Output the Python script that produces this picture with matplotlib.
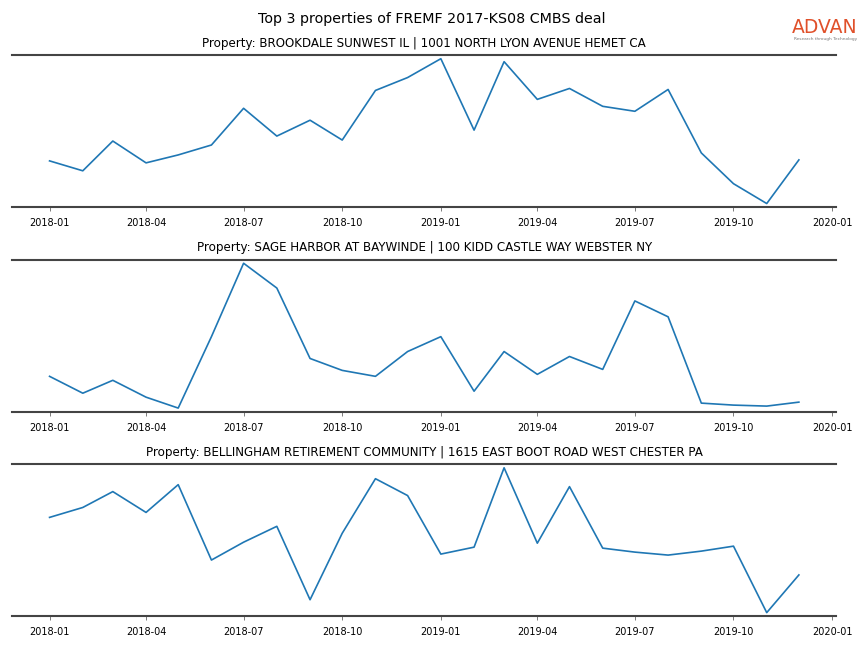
import numpy as np
import pandas as pd
from matplotlib import pyplot as plt
import matplotlib.dates as mdates

months = pd.date_range('2018-01-01', '2019-12-01', freq='MS')

titles = [
    'Property: BROOKDALE SUNWEST IL | 1001 NORTH LYON AVENUE HEMET CA',
    'Property: SAGE HARBOR AT BAYWINDE | 100 KIDD CASTLE WAY WEBSTER NY',
    'Property: BELLINGHAM RETIREMENT COMMUNITY | 1615 EAST BOOT ROAD WEST CHESTER PA',
]

brookdale = [45, 35, 65, 43, 51, 61, 98, 70, 86, 66, 116, 129,
             148, 76, 145, 107, 118, 100, 95, 117, 53, 22, 2, 46]
sage_harbor = [33, 16, 29, 12, 1, 73, 147, 122, 51, 39, 33, 58,
               73, 18, 58, 35, 53, 40, 109, 93, 6, 4, 3, 7]
bellingham = [99, 109, 125, 104, 132, 56, 74, 90, 16, 83, 138, 121,
              62, 69, 149, 73, 130, 68, 64, 61, 65, 70, 3, 41]

series = [brookdale, sage_harbor, bellingham]

if __name__ == '__main__':
    fig, axes = plt.subplots(3, 1, figsize=(8.64, 6.48), dpi=100)
    plt.subplots_adjust(left=0.014, right=0.968, top=0.915, bottom=0.049, hspace=0.345)

    fig.suptitle('Top 3 properties of FREMF 2017-KS08 CMBS deal', fontsize=10.3, y=0.982)

    for ax, title, vals in zip(axes, titles, series):
        ax.plot(months, vals, color='#1f77b4', lw=1.2)
        ax.set_title(title, fontsize=8.6, pad=6)
        ax.margins(y=0.025)
        ax.spines['left'].set_visible(False)
        ax.spines['right'].set_visible(False)
        for s in ('top', 'bottom'):
            ax.spines[s].set_color('#444444')
            ax.spines[s].set_linewidth(1.5)
        ax.set_yticks([])
        ax.xaxis.set_major_locator(mdates.MonthLocator(bymonth=[1, 4, 7, 10]))
        ax.xaxis.set_major_formatter(mdates.DateFormatter('%Y-%m'))
        ax.tick_params(axis='x', labelsize=7, length=3, width=0.6, color='#666666', pad=5)

    # logo
    fig.text(0.955, 0.957, 'ADVAN', color='#e0502a', fontsize=13.5,
             ha='center', va='center')
    fig.text(0.955, 0.940, 'Research through Technology', color='#777777',
             fontsize=3.1, ha='center', va='center')

    fig.savefig('out.png', dpi=100)
